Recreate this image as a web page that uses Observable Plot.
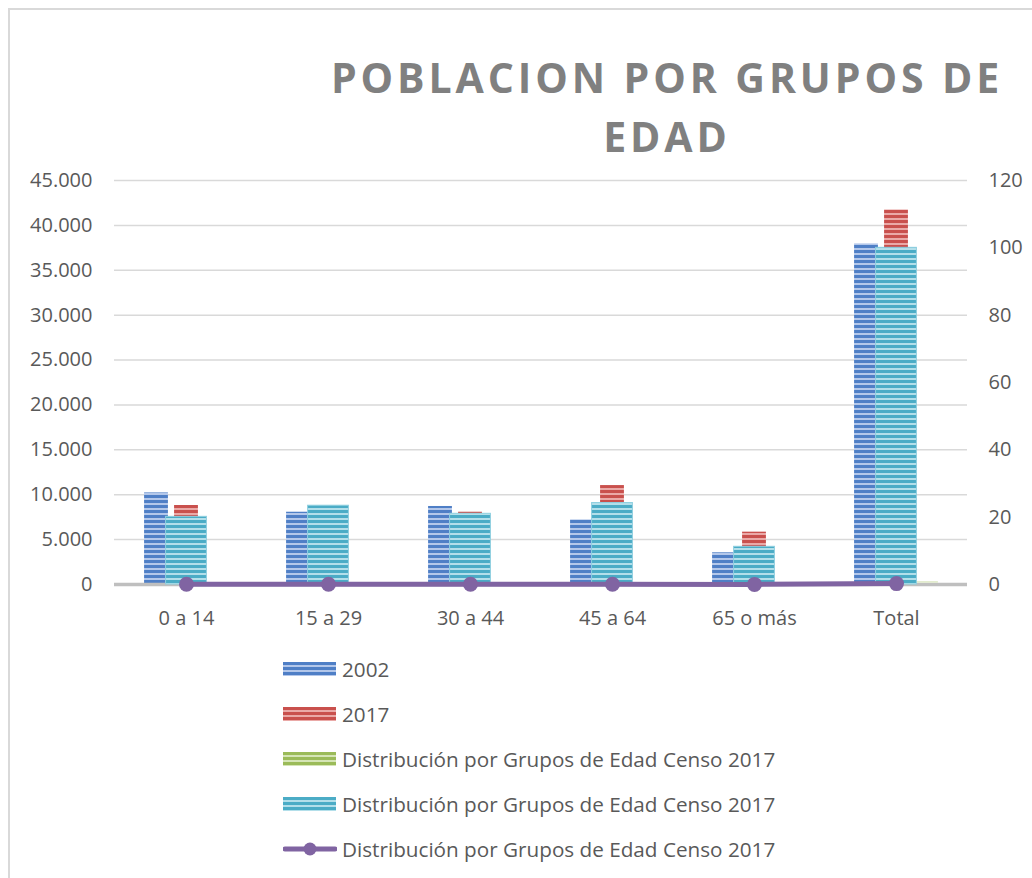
<!DOCTYPE html>
<html>
<head>
<meta charset="utf-8">
<script src="https://cdn.jsdelivr.net/npm/d3@7"></script>
<script src="https://cdn.jsdelivr.net/npm/@observablehq/plot@0.6"></script>
<style>
  html, body { margin: 0; padding: 0; background: #fff; }
  #page { position: relative; width: 1032px; height: 878px; overflow: hidden; font-family: "Open Sans", sans-serif; }
  #frame { position: absolute; left: 8px; top: 8px; width: 1100px; height: 1000px; border-top: 2px solid #d9d9d9; border-left: 2px solid #d9d9d9; box-sizing: border-box; }
  #title { position: absolute; left: 316px; top: 48px; width: 702px; text-align: center; font-family: "Open Sans", sans-serif; font-weight: 700; font-size: 41px; line-height: 59px; letter-spacing: 3.9px; color: #808080; }
  #chart { position: absolute; left: 0; top: 0; }
  .lg-row { position: absolute; left: 283px; height: 28px; line-height: 28px; font-size: 20.7px; color: #595959; white-space: nowrap; }
  .lg-row svg { position: absolute; left: 0; top: 7px; }
  .lg-row span { position: absolute; left: 59px; top: 0; }
</style>
</head>
<body>
<svg width="0" height="0" style="position:absolute">
  <defs>
    <pattern id="pBlue" patternUnits="userSpaceOnUse" width="8" height="5">
      <rect width="8" height="5" fill="#4f7fc6"/><rect y="3" width="8" height="2" fill="#b3c7ea"/>
    </pattern>
    <pattern id="pRed" patternUnits="userSpaceOnUse" width="8" height="5">
      <rect width="8" height="5" fill="#c9504d"/><rect y="3" width="8" height="2" fill="#eaa9a7"/>
    </pattern>
    <pattern id="pGreen" patternUnits="userSpaceOnUse" width="8" height="5">
      <rect width="8" height="5" fill="#9bbb59"/><rect y="3" width="8" height="2" fill="#d5e5b6"/>
    </pattern>
    <pattern id="pCyan" patternUnits="userSpaceOnUse" width="8" height="5">
      <rect width="8" height="5" fill="#4bacc6"/><rect y="3" width="8" height="2" fill="#b3dfea"/>
    </pattern>
  </defs>
</svg>
<div id="page">
  <div id="frame"></div>
  <div id="chart"></div>
  <div id="title">POBLACION POR GRUPOS DE<br>EDAD</div>
  <div id="legend"></div>
</div>
<script>
// ---- data ----
const categories = ["0 a 14", "15 a 29", "30 a 44", "45 a 64", "65 o más", "Total"];
const pob2002 = [10200, 8050, 8690, 7200, 3530, 37940];
const pob2017 = [8800, 8000, 8050, 11020, 5830, 41720];
const distPrimaryBars = [20.1, 23.4, 21.0, 24.2, 11.2, 100];   // green, primary axis
const distSecondary = [20.1, 23.4, 21.0, 24.2, 11.2, 100];     // cyan, secondary axis (%)
const distLine = [20.1, 23.4, 21.0, 24.2, 11.2, 100];          // purple line, primary axis
const leftTicks = [0, 5000, 10000, 15000, 20000, 25000, 30000, 35000, 40000, 45000];
const rightTicks = [0, 20, 40, 60, 80, 100, 120];
const legendLabels = ["2002", "2017", "Distribución por Grupos de Edad Censo 2017", "Distribución por Grupos de Edad Censo 2017", "Distribución por Grupos de Edad Censo 2017"];

// ---- chart ----
const W = 1032, H = 660, mL = 114, mR = 65, mT = 180, mB = 76;
const yMax = 45000, y2Max = 120, k = yMax / y2Max;
const bandW = (W - mL - mR) / categories.length;
const barW = 24, barStep = 30, cyanW = 41;
const inBar = (bandW - barW) / 2, inCyan = (bandW - cyanW) / 2;

const rows = categories.map((c, i) => ({
  cat: c, a: pob2002[i], b: pob2017[i], g: distPrimaryBars[i], c2: distSecondary[i] * k, l: distLine[i]
}));
const fmt = d => d3.format(",")(d).replace(/,/g, ".");

const chart = Plot.plot({
  width: W, height: H, marginLeft: mL, marginRight: mR, marginTop: mT, marginBottom: mB,
  style: { fontFamily: "Open Sans, sans-serif", fontSize: "20px", color: "#595959", background: "transparent", overflow: "visible" },
  x: { type: "band", domain: categories, padding: 0 },
  y: { domain: [0, yMax] },
  marks: [
    Plot.gridY(leftTicks.filter(d => d > 0), { stroke: "#d9d9d9", strokeOpacity: 1, strokeWidth: 1.5 }),
    Plot.axisY(leftTicks, { tickSize: 0, tickPadding: 22, tickFormat: fmt, label: null, fontSize: 20, fill: "#595959" }),
    Plot.axisY(rightTicks.map(d => d * k), { anchor: "right", tickSize: 0, tickPadding: 21, tickFormat: d => String(Math.round(d / k)), label: null, fontSize: 20, fill: "#595959" }),
    Plot.axisX({ tickSize: 0, tickPadding: 26, label: null, fontSize: 20, fill: "#595959" }),
    Plot.barY(rows, { x: "cat", y: "a", fill: "url(#pBlue)", insetLeft: inBar, insetRight: inBar, dx: -barStep }),
    Plot.barY(rows, { x: "cat", y: "b", fill: "url(#pRed)", insetLeft: inBar, insetRight: inBar }),
    Plot.ruleY([0], { stroke: "#bfbfbf", strokeWidth: 3.5 }),
    Plot.barY(rows, { x: "cat", y: "g", fill: "url(#pGreen)", insetLeft: inBar, insetRight: inBar, dx: barStep, dy: -1.5 }),
    Plot.barY(rows, { x: "cat", y: "c2", fill: "url(#pCyan)", stroke: "#8fd0e0", strokeWidth: 1, insetLeft: inCyan, insetRight: inCyan }),
    Plot.line(rows, { x: "cat", y: "l", stroke: "#8064a2", strokeWidth: 5 }),
    Plot.dot(rows, { x: "cat", y: "l", r: 7.5, fill: "#8064a2", stroke: "none" })
  ]
});
document.getElementById("chart").appendChild(chart);

// ---- legend ----
const legend = document.getElementById("legend");
const swatches = ["pBlue", "pRed", "pGreen", "pCyan", "line"];
const centers0 = 668.5, rowStep = 45.1;
legendLabels.forEach((lab, i) => {
  const row = document.createElement("div");
  row.className = "lg-row";
  row.style.top = (centers0 + i * rowStep - 14) + "px";
  let sw;
  if (swatches[i] === "line") {
    sw = `<svg width="54" height="14"><line x1="2" x2="52" y1="7" y2="7" stroke="#8064a2" stroke-width="5" stroke-linecap="round"/><circle cx="27" cy="7" r="6.5" fill="#8064a2"/></svg>`;
  } else {
    sw = `<svg width="54" height="14"><rect x="0" y="0" width="53" height="14" fill="url(#${swatches[i]})"/></svg>`;
  }
  row.innerHTML = sw + `<span>${lab}</span>`;
  legend.appendChild(row);
});
</script>
</body>
</html>
